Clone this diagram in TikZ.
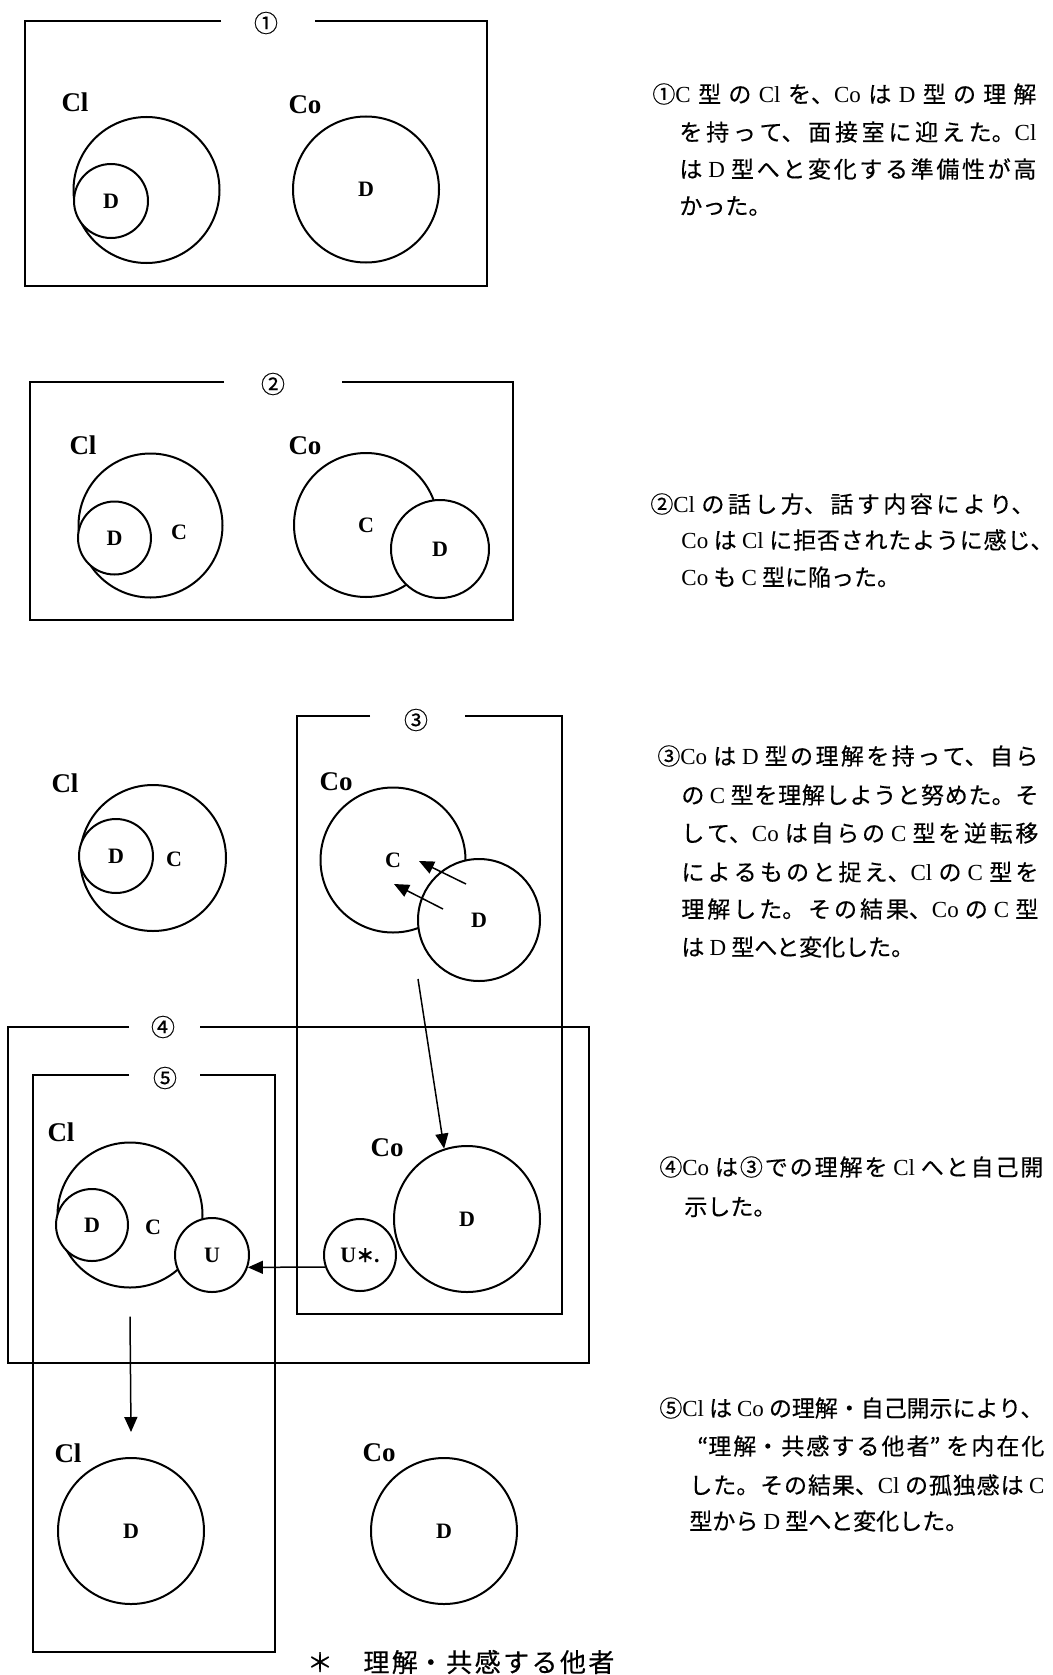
\documentclass[tikz,border=0pt]{standalone}
\usepackage{fontspec}
\setmainfont{Liberation Serif}
\newfontfamily\jp{Noto Sans CJK JP}[FakeBold=0.4]
\usetikzlibrary{arrows.meta}
\XeTeXlinebreaklocale "ja"
\XeTeXlinebreakskip=0pt plus 4pt minus 0.4pt
\newcommand\lt[1]{{\rmfamily #1}}
\newcommand\jl[2]{\parbox{#1}{\parindent=0pt\parfillskip=0pt\emergencystretch=20pt\relax #2}}
\tikzset{
  frame/.style={line width=1pt},
  ring/.style={circle, draw, line width=1pt, inner sep=0pt, fill=white, font=\bfseries\fontsize{11}{12}\selectfont},
  who/.style={font=\bfseries\fontsize{13.5}{15}\selectfont, inner sep=0pt},
  inl/.style={font=\bfseries\fontsize{11}{12}\selectfont, inner sep=0pt},
  num/.style={font=\jp\fontsize{12}{12}\selectfont, inner sep=0pt},
  arr/.style={line width=0.75pt, -{Triangle[length=7.5pt,width=6.5pt]}},
  desc/.style={anchor=west, inner sep=0pt, font=\jp\fontsize{11.5}{14}\selectfont},
  foot/.style={inner sep=0pt, font=\jp\fontsize{13}{15}\selectfont},
}
\begin{document}
\begin{tikzpicture}[x=0.5pt,y=-0.5pt]
\useasboundingbox (0,0) rectangle (1053,1675);

% ---------- panel 1 ----------
\draw[frame] (221,21) -| (25,286) -| (487,21) -- (315,21);
\node[num] (n1) at (266,23) {①};
\node[who] (cl1lab) at (75,102) {Cl};
\node[who] (co1lab) at (305,105) {Co};
\node[ring, minimum size=73pt] (cl1) at (146.5,190) {};
\node[ring, minimum size=37pt] (cl1d) at (111,201) {D};
\node[ring, minimum size=73pt] (co1) at (366,189.5) {D};

% ---------- panel 2 ----------
\draw[frame] (224,382) -| (30,620) -| (513,382) -- (342,382);
\node[num] (n2) at (273,384) {②};
\node[who] (cl2lab) at (83,445) {Cl};
\node[who] (co2lab) at (305,446) {Co};
\node[ring, minimum size=72pt] (cl2) at (150.5,525.5) {};
\node[ring, minimum size=36.5pt] (cl2d) at (114.5,538) {D};
\node[inl] (cl2c) at (179,532) {C};
\node[ring, minimum size=72pt] (co2) at (366,525) {C};
\node[ring, minimum size=49pt] (co2d) at (440,549) {D};

% ---------- panel 3 ----------
\node[who] (cl3lab) at (65,783) {Cl};
\node[ring, minimum size=73pt] (cl3) at (153,858) {};
\node[ring, minimum size=37pt] (cl3d) at (116,856) {D};
\node[inl] (cl3c) at (174,859) {C};
\draw[frame] (370,716) -| (297,1314) -| (562,716) -- (465,716);
\node[num] (n3) at (416,720) {③};
\node[who] (co3lab) at (336,782) {Co};
\node[ring, minimum size=72.5pt] (co3c) at (393,860) {C};
\node[ring, minimum size=61pt] (co3d) at (479,920) {D};
\coordinate (p1s) at (466,884);
\coordinate (p1e) at (419,861);
\coordinate (p2s) at (443,909);
\coordinate (p2e) at (394,884);
\coordinate (p3s) at (418,979);

% ---------- panels 4 and 5 ----------
\draw[frame] (129,1027) -| (8,1363) -| (589,1027) -- (200,1027);
\node[num] (n4) at (163,1027) {④};
\draw[frame] (129,1075) -| (33,1652) -| (275,1075) -- (200,1075);
\node[num] (n5) at (165,1078) {⑤};
\node[who] (cl5lab) at (61,1132) {Cl};
\node[ring, minimum size=72.5pt] (cl5) at (130,1215) {};
\node[ring, minimum size=36pt] (cl5d) at (92,1225) {D};
\node[inl] (cl5c) at (153,1227) {C};
\node[ring, minimum size=37pt] (u) at (212,1255) {U};
\node[who] (co4lab) at (387,1148) {Co};
\node[ring, minimum size=36pt] (ustar) at (360,1255) {U{\jp\fontsize{9}{10}\selectfont ＊}.};
\node[ring, minimum size=73pt] (co4d) at (467,1219) {D};

% ---------- final state ----------
\node[who] (cl6lab) at (68,1453) {Cl};
\node[ring, minimum size=73pt] (cl6) at (131,1531) {D};
\node[who] (co6lab) at (379,1453) {Co};
\node[ring, minimum size=73pt] (co6) at (444,1531) {D};

% ---------- arrows ----------
\draw[arr] (p1s) -- (p1e);
\draw[arr] (p2s) -- (p2e);
\draw[arr] (p3s) -- (co4d.108);
\draw[arr] (ustar.199) -- (u.-19);
\draw[arr] ([yshift=-14pt]cl5.south) -- ([yshift=12.5pt]cl6.north);

% ---------- explanations ----------
\node[desc] (t11) at (652,94) {\jl{192pt}{①\lt{C} 型の \lt{Cl} を、\lt{Co} は \lt{D} 型の理解}};
\node[desc] (t12) at (679,132) {\jl{178.5pt}{を持って、面接室に迎えた。\lt{Cl}}};
\node[desc] (t13) at (679,169) {\jl{178.5pt}{は \lt{D} 型へと変化する準備性が高}};
\node[desc] (t14) at (679,206) {かった。};

\node[desc] (t21) at (650,504) {\jl{192pt}{②\lt{Cl} の話し方、話す内容により、}};
\node[desc] (t22) at (681,540) {\jl{186pt}{\lt{Co} は \lt{Cl} に拒否されたように感じ、}};
\node[desc] (t23) at (681,577) {\lt{Co} も \lt{C} 型に陥った。};

\node[desc] (t31) at (657,756) {\jl{190.5pt}{③\lt{Co} は \lt{D} 型の理解を持って、自ら}};
\node[desc] (t32) at (681,795) {\jl{178.5pt}{の \lt{C} 型を理解しようと努めた。そ}};
\node[desc] (t33) at (681,833) {\jl{178.5pt}{して、\lt{Co} は自らの \lt{C} 型を逆転移}};
\node[desc] (t34) at (681,872) {\jl{178.5pt}{によるものと捉え、\lt{Cl} の \lt{C} 型を}};
\node[desc] (t35) at (681,909) {\jl{178.5pt}{理解した。その結果、\lt{Co} の \lt{C} 型}};
\node[desc] (t36) at (681,947) {は \lt{D} 型へと変化した。};

\node[desc] (t41) at (659,1167) {\jl{192pt}{④\lt{Co} は③での理解を \lt{Cl} へと自己開}};
\node[desc] (t42) at (684,1207) {示した。};

\node[desc] (t51) at (659,1408) {\jl{192pt}{⑤\lt{Cl} は \lt{Co} の理解・自己開示により、}};
\node[desc] (t52) at (697,1446) {\jl{173.5pt}{“理解・共感する他者” を内在化}};
\node[desc] (t53) at (689,1485) {\jl{177.5pt}{した。その結果、\lt{Cl} の孤独感は \lt{C}}};
\node[desc] (t54) at (689,1521) {型から \lt{D} 型へと変化した。};

\node[foot] (fa) at (320,1662) {＊};
\node[foot, anchor=west] (fb) at (363,1662) {\jl{125.5pt}{理解・共感する他者}};
\end{tikzpicture}
\end{document}
